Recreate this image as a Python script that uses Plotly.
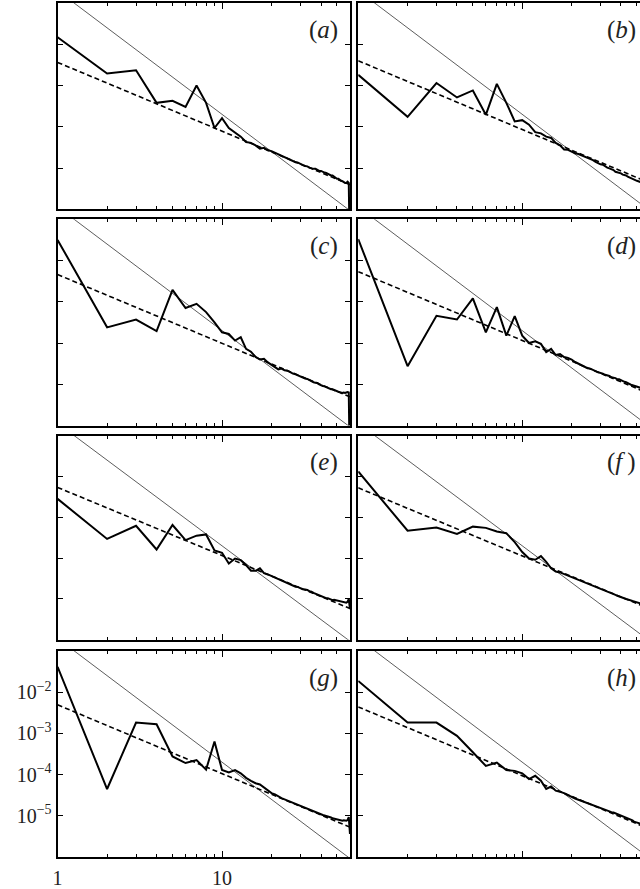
import numpy as np
import plotly.graph_objects as go

# wavenumber index
k = list(range(1, 61))

# log10 of the spectra, one list per panel (k = 1..60)
spec_a = [-1.83, -2.71, -2.63, -3.42, -3.37, -3.52, -3.00, -3.42, -4.03, -3.79,
          -4.03, -4.15, -4.24, -4.37, -4.39, -4.45, -4.53, -4.51, -4.57, -4.59,
          -4.63, -4.66, -4.69, -4.74, -4.77, -4.79, -4.83, -4.86, -4.87, -4.91,
          -4.93, -4.95, -4.96, -4.99, -5.01, -5.02, -5.02, -5.05, -5.07, -5.07,
          -5.10, -5.11, -5.12, -5.14, -5.17, -5.18, -5.18, -5.21, -5.24, -5.26,
          -5.26, -5.29, -5.31, -5.32, -5.35, -5.36, -5.36, -5.33, -5.36, -7.50]
spec_b = [-2.74, -3.76, -2.94, -3.29, -3.12, -3.71, -2.96, -3.42, -3.87, -3.84,
          -3.95, -4.13, -4.16, -4.24, -4.27, -4.39, -4.45, -4.55, -4.56, -4.61,
          -4.64, -4.66, -4.69, -4.72, -4.76, -4.79, -4.81, -4.85, -4.89, -4.91,
          -4.92, -4.96, -4.99, -5.01, -5.03, -5.05, -5.09, -5.10, -5.11, -5.13,
          -5.16, -5.17, -5.18, -5.21, -5.23, -5.24, -5.27, -5.27, -5.29, -5.31,
          -5.32, -5.33, -5.35, -5.36, -5.37, -5.38, -5.40, -5.41, -5.42, -7.50]
spec_c = [-1.50, -3.62, -3.43, -3.71, -2.71, -3.15, -3.05, -3.25, -3.50, -3.74,
          -3.78, -3.94, -3.86, -4.14, -4.21, -4.34, -4.40, -4.38, -4.47, -4.53,
          -4.58, -4.64, -4.62, -4.66, -4.67, -4.71, -4.74, -4.76, -4.79, -4.82,
          -4.84, -4.86, -4.87, -4.90, -4.92, -4.95, -4.96, -4.97, -5.00, -5.03,
          -5.04, -5.05, -5.07, -5.09, -5.10, -5.12, -5.12, -5.14, -5.16, -5.17,
          -5.18, -5.19, -5.20, -5.21, -5.20, -5.21, -5.20, -5.19, -5.20, -7.50]
spec_d = [-1.48, -4.56, -3.34, -3.43, -2.92, -3.74, -3.13, -3.82, -3.35, -3.82,
          -4.00, -3.96, -4.02, -4.22, -4.14, -4.29, -4.27, -4.34, -4.36, -4.40,
          -4.46, -4.50, -4.52, -4.57, -4.61, -4.62, -4.66, -4.68, -4.71, -4.72,
          -4.74, -4.77, -4.78, -4.80, -4.83, -4.84, -4.85, -4.88, -4.88, -4.90,
          -4.93, -4.94, -4.95, -4.98, -4.99, -5.01, -5.02, -5.04, -5.05, -5.06,
          -5.07, -5.08, -5.09, -5.10, -5.11, -5.12, -5.13, -5.14, -5.15, -7.50]
spec_e = [-2.55, -3.53, -3.21, -3.79, -3.19, -3.56, -3.45, -3.42, -3.81, -3.87,
          -4.13, -4.01, -4.05, -4.17, -4.31, -4.31, -4.25, -4.37, -4.40, -4.44,
          -4.49, -4.53, -4.55, -4.59, -4.62, -4.65, -4.67, -4.70, -4.71, -4.74,
          -4.76, -4.77, -4.78, -4.81, -4.82, -4.85, -4.87, -4.89, -4.92, -4.94,
          -4.95, -4.96, -4.98, -4.98, -5.00, -5.01, -5.03, -5.02, -5.03, -5.04,
          -5.05, -5.06, -5.06, -5.07, -5.08, -5.08, -5.09, -5.07, -5.00, -5.25]
spec_f = [-1.88, -3.33, -3.25, -3.41, -3.23, -3.26, -3.35, -3.39, -3.61, -3.85,
          -4.01, -4.04, -3.95, -4.09, -4.25, -4.33, -4.35, -4.39, -4.43, -4.47,
          -4.50, -4.53, -4.56, -4.59, -4.62, -4.64, -4.67, -4.69, -4.72, -4.74,
          -4.76, -4.78, -4.81, -4.83, -4.86, -4.88, -4.90, -4.92, -4.94, -4.96,
          -4.97, -4.99, -5.00, -5.01, -5.03, -5.04, -5.05, -5.06, -5.07, -5.08,
          -5.09, -5.10, -5.11, -5.12, -5.13, -5.14, -5.15, -5.16, -5.17, -7.50]
spec_g = [-1.39, -4.35, -2.74, -2.78, -3.56, -3.72, -3.65, -3.88, -3.20, -3.89,
          -3.95, -3.89, -3.97, -4.08, -4.15, -4.21, -4.24, -4.31, -4.38, -4.45,
          -4.48, -4.53, -4.57, -4.60, -4.63, -4.66, -4.68, -4.71, -4.73, -4.75,
          -4.77, -4.80, -4.82, -4.85, -4.87, -4.89, -4.91, -4.93, -4.95, -4.97,
          -4.98, -4.99, -5.00, -5.02, -5.03, -5.04, -5.06, -5.07, -5.08, -5.10,
          -5.10, -5.11, -5.12, -5.12, -5.11, -5.12, -5.12, -5.10, -5.03, -5.44]
spec_h = [-1.73, -2.74, -2.74, -3.06, -3.46, -3.79, -3.71, -3.89, -3.91, -3.97,
          -4.11, -4.03, -4.15, -4.35, -4.29, -4.39, -4.42, -4.45, -4.50, -4.55,
          -4.58, -4.61, -4.64, -4.67, -4.70, -4.72, -4.74, -4.77, -4.79, -4.81,
          -4.83, -4.85, -4.87, -4.89, -4.91, -4.92, -4.94, -4.96, -4.97, -4.99,
          -5.01, -5.02, -5.04, -5.05, -5.07, -5.09, -5.11, -5.14, -5.15, -5.16,
          -5.17, -5.18, -5.19, -5.20, -5.21, -5.22, -5.23, -5.24, -5.25, -7.50]

panel_labels = ["a", "b", "c", "d", "e", "f", "g", "h"]
spectra = [spec_a, spec_b, spec_c, spec_d, spec_e, spec_f, spec_g, spec_h]

# reference power laws: dashed k^(-5/3) (log10 prefactor per panel), thin k^(-3)
dash_exponent = -5.0 / 3.0
dash_log_prefactor = [-2.44, -2.40, -2.34, -2.27, -2.27, -2.28, -2.31, -2.36]
thin_exponent = -3.0
thin_prefactor = 0.2
ref_k = [1, 60]

y_tickvals = [1e-2, 1e-3, 1e-4, 1e-5]
y_ticktext = ["10<sup>\u22122</sup>", "10<sup>\u22123</sup>",
              "10<sup>\u22124</sup>", "10<sup>\u22125</sup>"]
x_tickvals = [1, 10]
x_ticktext = ["1", "10"]
x_minor = [2, 3, 4, 5, 6, 7, 8, 9, 20, 30, 40, 50]

W, H = 640, 889
col_left = [53, 356]
col_right = [348, 640]
col_xmax = [1.78, 1.718]
row_top = [3, 220, 437, 653]
row_bot = [210, 427, 642, 860]

FONT = "Liberation Serif"
fig = go.Figure()

for i, (lab, spec) in enumerate(zip(panel_labels, spectra)):
    r, c = divmod(i, 2)
    n = i + 1
    xa = "x" if n == 1 else f"x{n}"
    ya = "y" if n == 1 else f"y{n}"
    # thin k^-3 line
    fig.add_trace(go.Scatter(
        x=ref_k, y=[thin_prefactor * kk ** thin_exponent for kk in ref_k],
        mode="lines", line=dict(color="#333", width=0.8),
        xaxis=xa, yaxis=ya, showlegend=False, hoverinfo="skip"))
    # dashed k^-5/3 line
    fig.add_trace(go.Scatter(
        x=ref_k, y=[10 ** dash_log_prefactor[i] * kk ** dash_exponent for kk in ref_k],
        mode="lines", line=dict(color="black", width=1.6, dash="5px,3px"),
        xaxis=xa, yaxis=ya, showlegend=False, hoverinfo="skip"))
    # spectrum
    fig.add_trace(go.Scatter(
        x=k, y=[10 ** v for v in spec], mode="lines",
        line=dict(color="black", width=2),
        xaxis=xa, yaxis=ya, showlegend=False))

    show_labels = (lab == "g")
    xd = [col_left[c] / W, col_right[c] / W]
    yd = [1 - row_bot[r] / H, 1 - row_top[r] / H]
    xkey = "xaxis" if n == 1 else f"xaxis{n}"
    ykey = "yaxis" if n == 1 else f"yaxis{n}"
    fig.layout[xkey] = dict(
        type="log", domain=xd, range=[0, col_xmax[c]], anchor=ya,
        showline=True, linecolor="black", linewidth=2, mirror="ticks",
        ticks="inside", ticklen=6, tickwidth=1.4, tickcolor="black",
        tickvals=x_tickvals, ticktext=x_ticktext, showticklabels=show_labels,
        tickfont=dict(family=FONT, size=20, color="#222"),
        ticklabelstandoff=2,
        minor=dict(tickvals=x_minor, ticks="inside", ticklen=3, tickwidth=1.2,
                   tickcolor="black", showgrid=False),
        showgrid=False, zeroline=False, fixedrange=True)
    fig.layout[ykey] = dict(
        type="log", domain=yd, range=[-6, -1], anchor=xa,
        showline=True, linecolor="black", linewidth=2,
        mirror="ticks" if c == 0 else False,
        ticks="inside", ticklen=5, tickwidth=1.4, tickcolor="black",
        tickvals=y_tickvals, ticktext=y_ticktext, showticklabels=show_labels,
        tickfont=dict(family=FONT, size=20, color="#222"),
        showgrid=False, zeroline=False, fixedrange=True)

    label_x = (col_left[c] + (285 if c == 0 else 282)) / W
    label_y = 1 - (row_top[r] + 27) / H
    text = f"(<i>{lab}</i>\u2009)" if lab == "f" else f"(<i>{lab}</i>)"
    fig.add_annotation(x=label_x, y=label_y, xref="paper", yref="paper",
                       xanchor="right", yanchor="middle", showarrow=False,
                       text=text, font=dict(family=FONT, size=25, color="#222"))

fig.update_layout(width=W, height=H, margin=dict(l=0, r=0, t=0, b=0),
                  paper_bgcolor="white", plot_bgcolor="white",
                  font=dict(family=FONT, color="black"))

fig.write_html("out.html")
